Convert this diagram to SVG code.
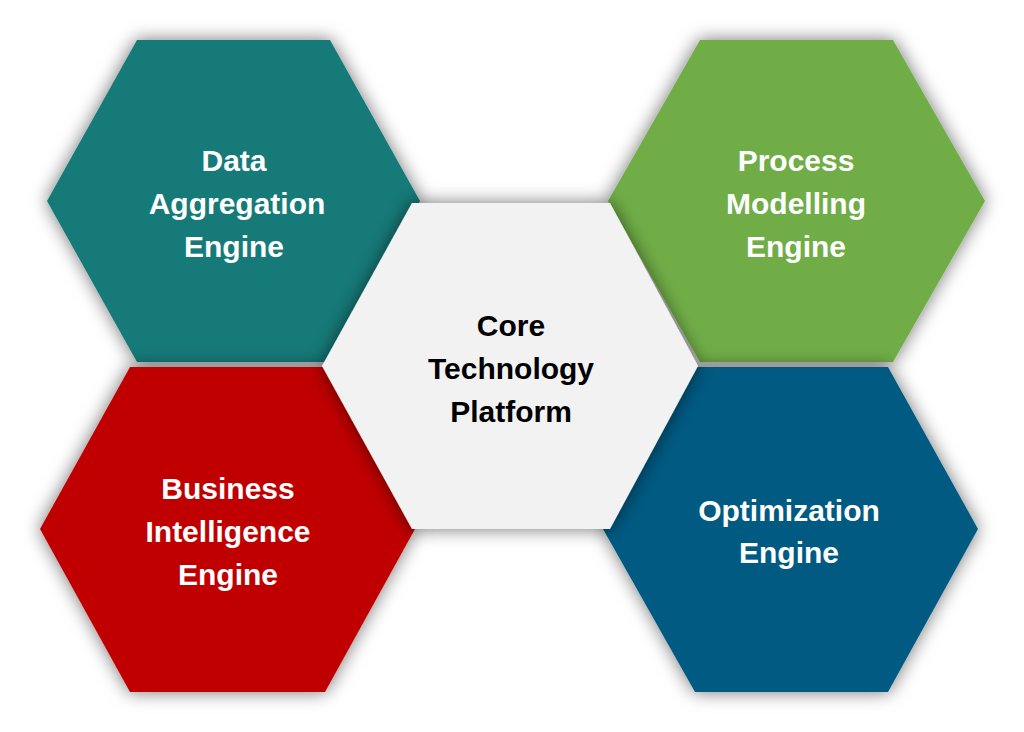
<svg xmlns="http://www.w3.org/2000/svg" width="1024" height="732" viewBox="0 0 1024 732">
<defs>
<filter id="sh" x="-20%" y="-20%" width="140%" height="140%"><feDropShadow dx="0" dy="0" stdDeviation="9" flood-color="#000" flood-opacity="0.55"/></filter>
</defs>
<style>
text{font-family:"Liberation Sans",Arial,sans-serif;font-weight:bold;font-size:30px;text-anchor:middle}
.w{fill:#fff}.k{fill:#000}
</style>
<rect width="1024" height="732" fill="#fff"/>
<g id="data-aggregation"><polygon filter="url(#sh)" fill="#137a78" points="137,40 330,40 420,201 330,362 137,362 47,201"/>
<text class="w" x="234" y="171">Data</text><text class="w" x="237" y="214">Aggregation</text><text class="w" x="234" y="257">Engine</text></g>
<g id="process-modelling"><polygon filter="url(#sh)" fill="#70ad47" points="700,40 893,40 985,201 893,362 700,362 608,201"/>
<text class="w" x="796" y="171">Process</text><text class="w" x="796" y="214">Modelling</text><text class="w" x="796" y="257">Engine</text></g>
<g id="business-intelligence"><polygon filter="url(#sh)" fill="#c00000" points="130,367 325,367 415,529 325,692 130,692 40,529"/>
<text class="w" x="228" y="499">Business</text><text class="w" x="228" y="542">Intelligence</text><text class="w" x="228" y="585">Engine</text></g>
<g id="optimization"><polygon filter="url(#sh)" fill="#065a82" points="695,367 888,367 978,529 888,692 695,692 603,529"/>
<text class="w" x="789" y="521">Optimization</text><text class="w" x="789" y="563">Engine</text></g>
<g id="core"><polygon filter="url(#sh)" fill="#f2f2f2" points="412,203 610,203 698,366 610,529 412,529 322,366"/>
<text class="k" x="511" y="336">Core</text><text class="k" x="511" y="379">Technology</text><text class="k" x="511" y="422">Platform</text></g>
<g id="connectors"/>
</svg>
